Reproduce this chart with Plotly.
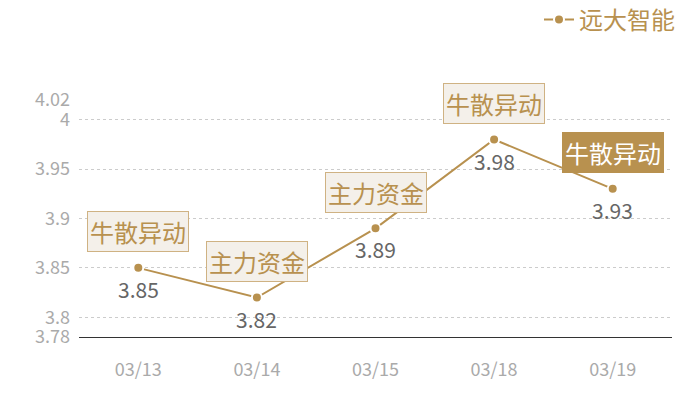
import plotly.graph_objs as go

# Data
dates = ['03/13', '03/14', '03/15', '03/18', '03/19']
prices = [3.85, 3.82, 3.89, 3.98, 3.93]
tags = ['牛散异动', '主力资金', '主力资金', '牛散异动', '牛散异动']
highlight = [False, False, False, False, True]
y_ticks = [3.78, 3.8, 3.85, 3.9, 3.95, 4, 4.02]

gold = '#b8914f'
font_family = 'Noto Sans CJK SC, Noto Sans, sans-serif'

trace = go.Scatter(x=dates, y=prices,
                   mode='lines+markers',
                   name='远大智能',
                   line=dict(color=gold, width=2),
                   marker=dict(size=10, color=gold,
                               line=dict(color='white', width=2)))

annotations = []
for d, p, t, h in zip(dates, prices, tags, highlight):
    # tag box above the point
    annotations.append(dict(x=d, y=p, xref='x', yref='y',
                            text=t, showarrow=False, yshift=36,
                            font=dict(size=24, color='white' if h else gold,
                                      family=font_family),
                            bgcolor=gold if h else '#f4f0ea',
                            bordercolor=gold if h else '#cfb283',
                            borderwidth=1, borderpad=2))
    # value label below the point
    annotations.append(dict(x=d, y=p, xref='x', yref='y',
                            text=str(p), showarrow=False, yshift=-21,
                            font=dict(size=21, color='#666666',
                                      family=font_family)))

# the page body adds an 8px offset, so margins are shifted to compensate
layout = go.Layout(width=700, height=400,
                   margin=dict(l=71, r=36, t=92, b=71),
                   paper_bgcolor='white', plot_bgcolor='white',
                   font=dict(family=font_family),
                   showlegend=True,
                   legend=dict(orientation='h', xref='container', yref='container',
                               x=0.96, xanchor='right',
                               y=0.97, yanchor='middle',
                               font=dict(size=24, color=gold),
                               itemwidth=30),
                   xaxis=dict(type='category', range=[-0.5, 4.5],
                              showgrid=False, automargin=False,
                              showline=True, linecolor='#333333', linewidth=1,
                              ticks='', tickfont=dict(size=18, color='#aaaaaa'),
                              ticklabelstandoff=16, fixedrange=True),
                   yaxis=dict(range=[3.78, 4.02], tickvals=y_ticks,
                              ticktext=[str(v) for v in y_ticks],
                              automargin=False,
                              showgrid=True, gridcolor='#cccccc', griddash='dot',
                              gridwidth=1, zeroline=False,
                              tickfont=dict(size=18, color='#aaaaaa'),
                              ticklabelstandoff=8),
                   annotations=annotations)

fig = go.Figure(data=[trace], layout=layout)
fig.write_html("out.html")
